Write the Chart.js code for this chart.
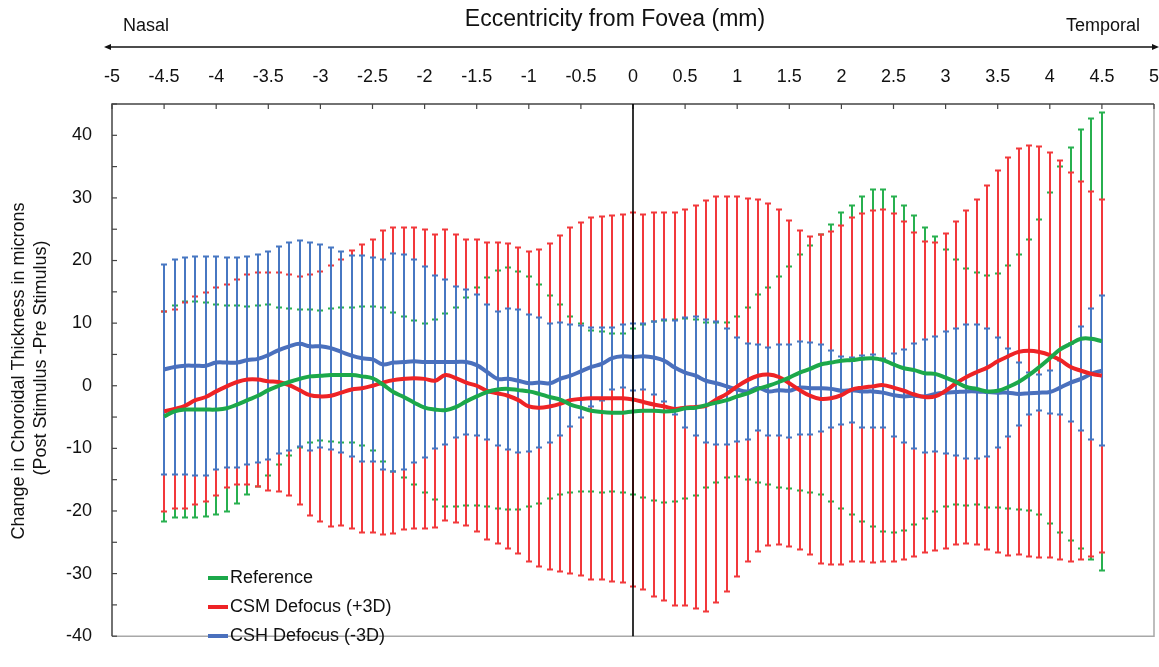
<!DOCTYPE html>
<html>
<head>
<meta charset="utf-8">
<title>Change in Choroidal Thickness</title>
<script src="https://cdn.jsdelivr.net/npm/chart.js@4.4.1/dist/chart.umd.min.js"></script>
<style>
  html, body { margin: 0; padding: 0; background: #fff; }
  #wrap { width: 1159px; height: 667px; }
</style>
</head>
<body>
<div id="wrap"><canvas id="grafico"></canvas></div>
<script>
// eccentricity from fovea (mm), one sample every 0.1 mm
const eccentricity = [
  -4.5, -4.4, -4.3, -4.2, -4.1, -4.0, -3.9, -3.8, -3.7, -3.6,
  -3.5, -3.4, -3.3, -3.2, -3.1, -3.0, -2.9, -2.8, -2.7, -2.6,
  -2.5, -2.4, -2.3, -2.2, -2.1, -2.0, -1.9, -1.8, -1.7, -1.6,
  -1.5, -1.4, -1.3, -1.2, -1.1, -1.0, -0.9, -0.8, -0.7, -0.6,
  -0.5, -0.4, -0.3, -0.2, -0.1, 0.0, 0.1, 0.2, 0.3, 0.4,
  0.5, 0.6, 0.7, 0.8, 0.9, 1.0, 1.1, 1.2, 1.3, 1.4,
  1.5, 1.6, 1.7, 1.8, 1.9, 2.0, 2.1, 2.2, 2.3, 2.4,
  2.5, 2.6, 2.7, 2.8, 2.9, 3.0, 3.1, 3.2, 3.3, 3.4,
  3.5, 3.6, 3.7, 3.8, 3.9, 4.0, 4.1, 4.2, 4.3, 4.4, 4.5
];

// Reference: mean change and SD (microns)
const referenceMean = [
  -4.9, -4.1, -3.8, -3.8, -3.8, -3.8, -3.6, -3.0, -2.3, -1.6,
  -0.7, 0.0, 0.6, 1.1, 1.5, 1.6, 1.7, 1.7, 1.7, 1.5,
  1.2, 0.2, -1.0, -1.8, -2.7, -3.5, -3.8, -3.9, -3.4, -2.5,
  -1.7, -1.0, -0.6, -0.5, -0.7, -0.9, -1.3, -1.8, -2.2, -3.0,
  -3.5, -4.0, -4.2, -4.3, -4.3, -4.1, -4.0, -4.0, -4.1, -4.0,
  -3.6, -3.5, -3.1, -2.7, -2.3, -1.7, -1.2, -0.5, 0.0, 0.6,
  1.3, 2.1, 2.7, 3.4, 3.7, 4.0, 4.1, 4.3, 4.4, 4.1,
  3.4, 2.8, 2.5, 2.0, 1.9, 1.3, 0.6, -0.2, -0.5, -0.9,
  -0.8, -0.2, 0.6, 1.7, 3.0, 4.4, 5.8, 6.7, 7.5, 7.5, 7.1
];
const referenceSd = [
  16.8, 17.0, 17.3, 17.3, 17.2, 16.8, 16.5, 15.9, 15.1, 14.5,
  13.7, 12.6, 11.8, 11.1, 10.7, 10.5, 10.7, 10.8, 10.9, 11.2,
  11.6, 12.3, 12.8, 13.0, 13.2, 13.6, 14.5, 15.5, 15.9, 16.7,
  17.5, 18.4, 19.1, 19.4, 19.1, 18.5, 17.6, 16.3, 15.2, 14.2,
  13.5, 12.9, 12.9, 12.7, 12.8, 13.3, 13.9, 14.4, 14.6, 14.6,
  14.5, 14.1, 13.3, 12.9, 12.5, 12.8, 13.8, 15.1, 15.8, 16.9,
  17.8, 18.9, 19.8, 20.8, 22.2, 23.7, 24.8, 26.0, 27.0, 27.4,
  26.9, 26.0, 24.7, 23.3, 22.0, 20.6, 19.6, 19.0, 18.6, 18.6,
  18.8, 19.5, 20.5, 21.7, 23.7, 26.5, 29.3, 31.5, 33.5, 35.3, 36.7
];

// CSM Defocus (+3D)
const csmMean = [
  -4.1, -3.7, -3.2, -2.3, -1.8, -0.9, -0.1, 0.6, 1.0, 1.0,
  0.7, 0.6, 0.1, -0.7, -1.5, -1.7, -1.6, -1.1, -0.6, -0.4,
  0.0, 0.5, 0.9, 1.1, 1.2, 1.1, 0.8, 1.7, 1.2, 0.5,
  0.0, -0.8, -1.2, -1.6, -2.3, -3.3, -3.5, -3.3, -2.9, -2.3,
  -2.1, -2.0, -2.0, -2.0, -2.0, -2.2, -2.6, -3.0, -3.3, -3.7,
  -3.5, -3.4, -3.2, -2.2, -1.3, -0.1, 0.9, 1.6, 1.8, 1.4,
  0.4, -0.7, -1.6, -2.1, -2.0, -1.5, -0.6, -0.3, -0.1, 0.1,
  -0.3, -0.8, -1.4, -1.8, -1.7, -0.8, 0.4, 1.4, 2.2, 2.9,
  3.9, 4.7, 5.4, 5.6, 5.4, 4.9, 4.1, 3.0, 2.4, 1.9, 1.6
];
const csmSd = [
  16.0, 16.0, 16.5, 16.7, 16.8, 16.7, 16.3, 16.5, 16.9, 17.2,
  17.5, 17.6, 17.7, 18.3, 19.3, 20.0, 20.9, 21.3, 22.3, 23.1,
  23.5, 24.4, 24.5, 24.2, 24.1, 24.0, 23.5, 23.3, 23.1, 22.9,
  23.4, 23.8, 24.1, 24.4, 24.5, 24.9, 25.4, 26.1, 26.9, 27.7,
  28.3, 29.0, 29.1, 29.3, 29.5, 29.9, 30.1, 30.8, 31.1, 31.4,
  31.7, 32.2, 32.9, 32.5, 31.6, 30.4, 29.1, 28.2, 27.4, 26.8,
  26.1, 25.5, 25.5, 26.4, 26.7, 27.1, 27.6, 27.9, 28.2, 28.2,
  27.9, 27.1, 25.9, 24.9, 24.7, 25.2, 25.9, 26.6, 27.7, 29.1,
  30.6, 31.9, 32.5, 32.9, 32.9, 32.4, 31.9, 31.2, 30.3, 29.2, 28.3
];

// CSH Defocus (-3D)
const cshMean = [
  2.6, 3.0, 3.2, 3.2, 3.2, 3.7, 3.7, 3.7, 4.1, 4.3,
  4.9, 5.7, 6.3, 6.7, 6.3, 6.3, 6.0, 5.4, 4.8, 4.4,
  4.2, 3.4, 3.7, 3.8, 3.9, 3.8, 3.8, 3.8, 3.8, 3.8,
  3.3, 2.2, 1.1, 1.1, 0.8, 0.4, 0.5, 0.4, 1.1, 1.6,
  2.3, 3.0, 3.5, 4.4, 4.7, 4.6, 4.7, 4.5, 4.0, 2.9,
  2.1, 1.6, 0.8, 0.4, -0.1, -0.6, -0.9, -0.3, -0.9, -0.7,
  -0.8, -0.3, -0.4, -0.4, -0.5, -0.8, -0.7, -0.9, -0.9, -1.1,
  -1.5, -1.7, -1.6, -1.7, -1.3, -1.1, -1.0, -0.9, -0.9, -1.0,
  -1.1, -1.1, -1.3, -1.2, -1.1, -1.0, -0.3, 0.5, 1.1, 1.9, 2.4
];
const cshSd = [
  16.9, 17.3, 17.4, 17.6, 17.6, 17.1, 16.9, 16.8, 16.7, 16.7,
  16.7, 16.6, 16.7, 16.5, 16.7, 16.3, 16.2, 16.1, 16.1, 16.5,
  16.4, 16.9, 17.5, 17.2, 16.3, 15.4, 13.9, 13.3, 12.1, 11.6,
  11.3, 10.9, 10.8, 11.3, 11.5, 11.0, 10.5, 9.6, 9.1, 8.2,
  7.4, 6.4, 5.9, 5.0, 5.1, 5.4, 5.4, 5.9, 6.6, 7.6,
  8.9, 9.6, 9.9, 9.9, 9.3, 8.4, 7.8, 6.9, 7.1, 7.4,
  7.5, 7.5, 7.4, 7.0, 6.2, 5.5, 5.3, 5.8, 5.9, 5.6,
  6.7, 7.5, 8.5, 9.1, 9.3, 9.8, 10.2, 10.8, 10.8, 10.3,
  8.9, 7.1, 5.1, 3.4, 2.9, 3.5, 4.4, 6.3, 8.4, 10.5, 12.1
];

const seriesLabels = ["Reference", "CSM Defocus (+3D)", "CSH Defocus (-3D)"];
const xTitle = "Eccentricity from Fovea (mm)";
const yTitle = ["Change in Choroidal Thickness in microns", "(Post Stimulus -Pre Stimulus)"];

const FONT = "'Liberation Sans', Arial, Helvetica, sans-serif";
Chart.defaults.font.family = FONT;
Chart.defaults.color = "#111";

function toPoints(means) {
  return means.map((m, i) => ({ x: eccentricity[i], y: m }));
}

// whiskers, frame, inner ticks, arrow and legend
const decorations = {
  id: "decorations",
  beforeDatasetsDraw(chart) {
    const { ctx } = chart;
    const x = chart.scales.x;
    const y = chart.scales.y;
    ctx.save();
    ctx.lineWidth = 2;
    chart.data.datasets.forEach((ds) => {
      ctx.strokeStyle = ds.whiskerColor;
      ds.data.forEach((p, i) => {
        // snap to whole pixels so the bars of the three series cover each other cleanly
        const px = Math.round(x.getPixelForValue(p.x));
        const top = Math.round(y.getPixelForValue(p.y + ds.sd[i])) + 0.5;
        const bottom = Math.round(y.getPixelForValue(p.y - ds.sd[i])) - 0.5;
        ctx.beginPath();
        ctx.moveTo(px, top);
        ctx.lineTo(px, bottom);
        ctx.stroke();
        ctx.beginPath();
        ctx.moveTo(px - 3, top);
        ctx.lineTo(px + 3, top);
        ctx.moveTo(px - 3, bottom);
        ctx.lineTo(px + 3, bottom);
        ctx.stroke();
      });
    });
    ctx.restore();
  },
  afterDraw(chart) {
    const { ctx, chartArea: area } = chart;
    const x = chart.scales.x;
    const y = chart.scales.y;
    ctx.save();

    // right and bottom edges in light grey
    ctx.strokeStyle = "#a8a8a8";
    ctx.lineWidth = 1.5;
    ctx.beginPath();
    ctx.moveTo(area.right, area.top);
    ctx.lineTo(area.right, area.bottom);
    ctx.lineTo(area.left, area.bottom);
    ctx.stroke();

    // left and top axes
    ctx.strokeStyle = "#444";
    ctx.beginPath();
    ctx.moveTo(area.left, area.bottom);
    ctx.lineTo(area.left, area.top);
    ctx.lineTo(area.right, area.top);
    ctx.stroke();

    // tick marks pointing into the plot
    ctx.lineWidth = 1.2;
    x.ticks.forEach((t) => {
      const px = x.getPixelForValue(t.value);
      ctx.beginPath();
      ctx.moveTo(px, area.top);
      ctx.lineTo(px, area.top + 5);
      ctx.stroke();
    });
    y.ticks.forEach((t) => {
      const py = y.getPixelForValue(t.value);
      ctx.beginPath();
      ctx.moveTo(area.left, py);
      ctx.lineTo(area.left + 5, py);
      ctx.stroke();
    });

    // fovea line
    ctx.strokeStyle = "#000";
    ctx.lineWidth = 1.6;
    const x0 = x.getPixelForValue(0);
    ctx.beginPath();
    ctx.moveTo(x0, area.top);
    ctx.lineTo(x0, area.bottom);
    ctx.stroke();

    // nasal / temporal arrow
    const ay = 47;
    ctx.lineWidth = 1.5;
    ctx.strokeStyle = "#111";
    ctx.fillStyle = "#111";
    ctx.beginPath();
    ctx.moveTo(109, ay);
    ctx.lineTo(1155, ay);
    ctx.stroke();
    ctx.beginPath();
    ctx.moveTo(104, ay);
    ctx.lineTo(111, ay - 3);
    ctx.lineTo(111, ay + 3);
    ctx.closePath();
    ctx.fill();
    ctx.beginPath();
    ctx.moveTo(1159, ay);
    ctx.lineTo(1152, ay - 3);
    ctx.lineTo(1152, ay + 3);
    ctx.closePath();
    ctx.fill();

    ctx.textBaseline = "middle";
    ctx.font = "18px " + FONT;
    ctx.textAlign = "left";
    ctx.fillText("Nasal", 123, 26);
    ctx.textAlign = "right";
    ctx.fillText("Temporal", 1140, 26);

    ctx.font = "23px " + FONT;
    ctx.textAlign = "center";
    ctx.fillText(xTitle, 615, 20);

    // y axis title, two rotated lines
    ctx.font = "18px " + FONT;
    ctx.save();
    ctx.translate(19, 371);
    ctx.rotate(-Math.PI / 2);
    ctx.fillText(yTitle[0], 0, 0);
    ctx.restore();
    ctx.save();
    ctx.translate(41, 358);
    ctx.rotate(-Math.PI / 2);
    ctx.fillText(yTitle[1], 0, 0);
    ctx.restore();

    // legend inside the plot, lower left
    ctx.font = "18px " + FONT;
    ctx.textAlign = "left";
    chart.data.datasets.forEach((ds, k) => {
      const ly = 578 + k * 29;
      ctx.strokeStyle = ds.borderColor;
      ctx.lineWidth = 4;
      ctx.beginPath();
      ctx.moveTo(208, ly);
      ctx.lineTo(228, ly);
      ctx.stroke();
      ctx.fillStyle = "#111";
      ctx.fillText(ds.label, 230, ly);
    });

    ctx.restore();
  }
};

const ctx = document.getElementById("grafico").getContext("2d");

new Chart(ctx, {
  type: "line",
  data: {
    datasets: [
      {
        label: seriesLabels[0],
        data: toPoints(referenceMean),
        sd: referenceSd,
        borderColor: "#1ca84a",
        whiskerColor: "#27b04f",
      },
      {
        label: seriesLabels[1],
        data: toPoints(csmMean),
        sd: csmSd,
        borderColor: "#ee2326",
        whiskerColor: "#f2383b",
      },
      {
        label: seriesLabels[2],
        data: toPoints(cshMean),
        sd: cshSd,
        borderColor: "#4a70bd",
        whiskerColor: "#4777c2",
      },
    ],
  },
  options: {
    responsive: true,
    maintainAspectRatio: false,
    animation: false,
    layout: { padding: { left: 0, right: 5, top: 0, bottom: 8 } },
    elements: {
      line: { borderWidth: 4, tension: 0.4, fill: false },
      point: { radius: 0, hoverRadius: 0 },
    },
    plugins: {
      legend: { display: false },
      tooltip: { enabled: false },
    },
    scales: {
      x: {
        type: "linear",
        position: "top",
        min: -5,
        max: 5,
        grid: { display: false, drawTicks: false },
        border: { display: false },
        ticks: {
          stepSize: 0.5,
          padding: 16,
          font: { size: 18 },
          color: "#111",
          maxRotation: 0,
          callback: (v) => String(Math.round(v * 10) / 10),
        },
        afterFit: (scale) => {
          scale.height = 104;
          scale.paddingLeft = 0;
          scale.paddingRight = 0;
        },
      },
      y: {
        min: -40,
        max: 45,
        grid: { display: false, drawTicks: false },
        border: { display: false },
        ticks: {
          stepSize: 5,
          padding: 20,
          font: { size: 18 },
          color: "#111",
          callback: (v) => (v % 10 === 0 ? v : ""),
        },
        afterFit: (scale) => { scale.width = 112; },
      },
    },
  },
  plugins: [decorations],
});
</script>
</body>
</html>
